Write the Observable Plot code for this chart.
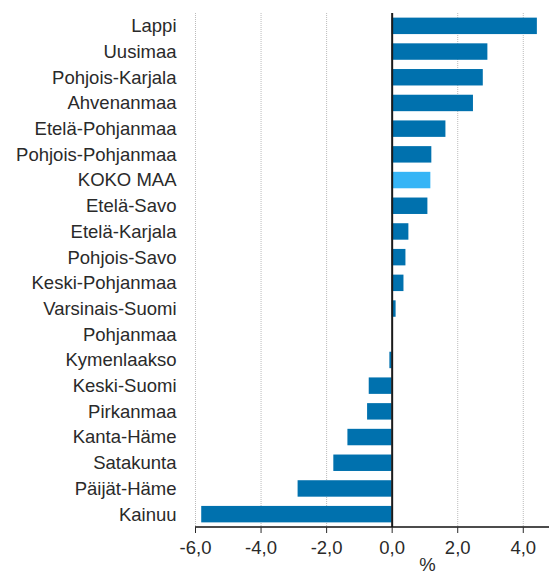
<!DOCTYPE html>
<html>
<head>
<meta charset="utf-8">
<script src="https://cdn.jsdelivr.net/npm/d3@7"></script>
<script src="https://cdn.jsdelivr.net/npm/@observablehq/plot@0.6"></script>
<style>
  html, body { margin: 0; padding: 0; background: #fff; }
  #chart { width: 549px; height: 575px; }
</style>
</head>
<body>
<div id="chart"></div>
<script>
const regions = ["Lappi", "Uusimaa", "Pohjois-Karjala", "Ahvenanmaa", "Etelä-Pohjanmaa",
  "Pohjois-Pohjanmaa", "KOKO MAA", "Etelä-Savo", "Etelä-Karjala", "Pohjois-Savo",
  "Keski-Pohjanmaa", "Varsinais-Suomi", "Pohjanmaa", "Kymenlaakso", "Keski-Suomi",
  "Pirkanmaa", "Kanta-Häme", "Satakunta", "Päijät-Häme", "Kainuu"];
const values = [4.43, 2.92, 2.78, 2.48, 1.64,
  1.21, 1.18, 1.09, 0.51, 0.42,
  0.36, 0.12, 0.0, -0.07, -0.70,
  -0.75, -1.35, -1.78, -2.87, -5.81];
const xTicks = [-6, -4, -2, 0, 2, 4];
const xUnit = "%";
const totalName = "KOKO MAA";

const data = regions.map((r, i) => ({region: r, value: values[i]}));
const fmt = d => d.toFixed(1).replace(".", ",");

// bottom axis line drawn from the x scale's start to the frame's right edge
const axisLine = (index, scales, channels, dims) => {
  const y = dims.height - dims.marginBottom;
  const line = d3.create("svg:line")
    .attr("x1", scales.x(xTicks[0]))
    .attr("x2", dims.width - dims.marginRight)
    .attr("y1", y).attr("y2", y)
    .attr("stroke", "#111").attr("stroke-width", 1.5);
  return line.node();
};

const chart = Plot.plot({
  width: 549,
  height: 575,
  marginTop: 13,
  marginBottom: 48,
  marginLeft: 195,
  marginRight: 0,
  style: {fontFamily: "'Liberation Sans', Arial, sans-serif", fontSize: "18.5px", color: "#2a2a2a", background: "#fff"},
  x: {domain: [-6, 4.8], ticks: xTicks, tickFormat: fmt},
  y: {domain: regions, paddingInner: 0.36, paddingOuter: 0.18, round: false},
  marks: [
    Plot.gridX(xTicks.filter(d => d !== 0), {stroke: "#bbb", strokeOpacity: 1, strokeWidth: 1, strokeDasharray: "1,1"}),
    Plot.barX(data, {x: "value", y: "region", fill: d => d.region === totalName ? "#36b5f6" : "#0071ae"}),
    Plot.ruleX([0], {stroke: "#1a1a1a", strokeWidth: 2}),
    axisLine,
    Plot.axisX({ticks: xTicks, tickFormat: fmt, tickSize: 6, tickPadding: 7, label: null, fontSize: 18.5, color: "#2a2a2a"}),
    Plot.axisY({tickSize: 0, tickPadding: 19, label: null, fontSize: 18.5, color: "#2a2a2a"}),
    Plot.text([xUnit], {frameAnchor: "bottom", dx: 55, dy: 43, fontSize: 18.5, fill: "#2a2a2a"})
  ]
});
document.getElementById("chart").appendChild(chart);
</script>
</body>
</html>
